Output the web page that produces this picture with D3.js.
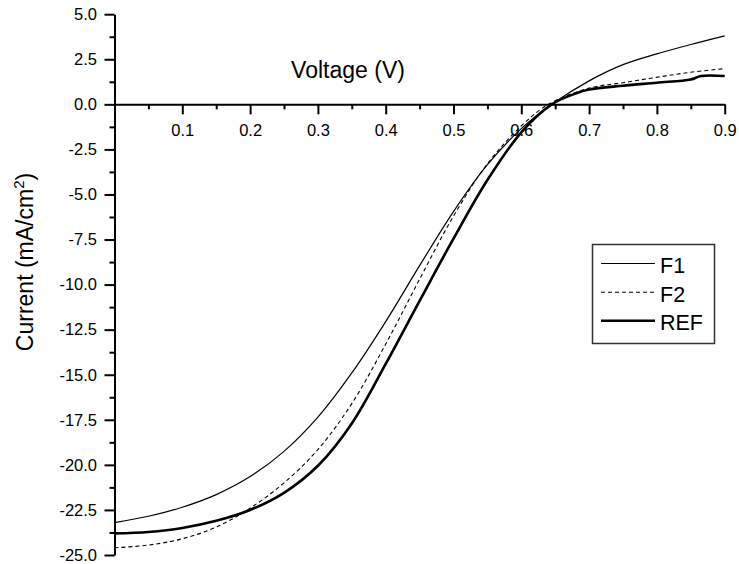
<!DOCTYPE html>
<html>
<head>
<meta charset="utf-8">
<script src="https://cdn.jsdelivr.net/npm/d3@7"></script>
<style>
  html, body { margin: 0; padding: 0; background: #fff; }
  svg { display: block; font-family: Arial, "Liberation Sans", sans-serif; }
</style>
</head>
<body>
<svg id="chart" width="739" height="564"></svg>
<script>
// ---- data ----
const seriesNames = ["F1", "F2", "REF"];
const voltageF1 = [0, 0.05, 0.1, 0.15, 0.2, 0.25, 0.3, 0.35, 0.4, 0.45, 0.5, 0.55, 0.6, 0.645, 0.7, 0.75, 0.8, 0.85, 0.9];
const currentF1 = [-23.2, -22.85, -22.35, -21.65, -20.65, -19.25, -17.35, -14.9, -12.05, -8.95, -5.95, -3.35, -1.35, 0.0, 1.3, 2.2, 2.8, 3.32, 3.8];
const voltageF2 = [0, 0.05, 0.1, 0.15, 0.2, 0.25, 0.3, 0.35, 0.4, 0.45, 0.5, 0.55, 0.6, 0.64, 0.7, 0.75, 0.8, 0.85, 0.9];
const currentF2 = [-24.6, -24.45, -24.1, -23.45, -22.4, -21.0, -19.15, -16.6, -13.3, -9.7, -6.2, -3.3, -1.2, 0.0, 0.9, 1.2, 1.5, 1.78, 1.98];
const voltageREF = [0, 0.05, 0.1, 0.15, 0.2, 0.25, 0.3, 0.35, 0.4, 0.45, 0.5, 0.55, 0.6, 0.645, 0.68, 0.7, 0.75, 0.8, 0.85, 0.865, 0.9];
const currentREF = [-23.8, -23.72, -23.5, -23.1, -22.5, -21.55, -20.05, -17.7, -14.4, -10.9, -7.45, -4.2, -1.55, 0.0, 0.6, 0.82, 1.03, 1.2, 1.38, 1.57, 1.57];
const xMajorTicks = [0.1, 0.2, 0.3, 0.4, 0.5, 0.6, 0.7, 0.8, 0.9];
const xMinorTicks = [0.05, 0.15, 0.25, 0.35, 0.45, 0.55, 0.65, 0.75, 0.85];
const yMajorTicks = [5, 2.5, 0, -2.5, -5, -7.5, -10, -12.5, -15, -17.5, -20, -22.5, -25];
const yMinorTicks = [3.75, 1.25, -1.25, -3.75, -6.25, -8.75, -11.25, -13.75, -16.25, -18.75, -21.25, -23.75];
const xTitle = "Voltage (V)";

// ---- chart ----
const svg = d3.select("#chart");
const x = d3.scaleLinear().domain([0, 0.9]).range([114.5, 724.7]);
const y = d3.scaleLinear().domain([-25, 5]).range([555, 14.2]);
const fmt = d => d.toFixed(1);   // plain hyphen-minus like the reference

const series = [
  { name: seriesNames[0], v: voltageF1, c: currentF1, width: 1.2, dash: null },
  { name: seriesNames[1], v: voltageF2, c: currentF2, width: 1.1, dash: "4,3" },
  { name: seriesNames[2], v: voltageREF, c: currentREF, width: 2.6, dash: null }
];

const line = d3.line().x(d => x(d[0])).y(d => y(d[1])).curve(d3.curveCatmullRom.alpha(0.5));

svg.append("g").selectAll("path").data(series).join("path")
  .attr("d", s => line(s.v.map((v, i) => [v, s.c[i]])))
  .attr("fill", "none")
  .attr("stroke", "#000")
  .attr("stroke-width", s => s.width)
  .attr("stroke-dasharray", s => s.dash)
  .attr("stroke-linejoin", "round");

// Y axis
const yAxisMinor = svg.append("g").attr("transform", `translate(${x(0)},0)`)
  .call(d3.axisLeft(y).tickValues(yMinorTicks).tickSize(5).tickFormat(""));
const yAxis = svg.append("g").attr("transform", `translate(${x(0)},0)`)
  .call(d3.axisLeft(y).tickValues(yMajorTicks).tickSize(10).tickSizeOuter(0).tickPadding(7.5).tickFormat(fmt));

// X axis at y=0
const xAxisMinor = svg.append("g").attr("transform", `translate(0,${y(0)})`)
  .call(d3.axisBottom(x).tickValues(xMinorTicks).tickSize(5).tickFormat(""));
const xAxis = svg.append("g").attr("transform", `translate(0,${y(0)})`)
  .call(d3.axisBottom(x).tickValues(xMajorTicks).tickSize(10).tickSizeOuter(0).tickPadding(10).tickFormat(fmt));

[yAxisMinor, yAxis, xAxisMinor, xAxis].forEach(g => {
  g.selectAll("path.domain").attr("stroke", "#000").attr("stroke-width", 2);
  g.selectAll(".tick line").attr("stroke", "#000").attr("stroke-width", 2);
  g.selectAll(".tick text").attr("fill", "#000").attr("font-size", 16.5).attr("font-family", "Arial, 'Liberation Sans', sans-serif");
});
xAxisMinor.select("path.domain").remove();
yAxisMinor.select("path.domain").remove();

// Axis titles
svg.append("text")
  .attr("x", 348).attr("y", 78.3)
  .attr("text-anchor", "middle")
  .attr("font-size", 23)
  .text(xTitle);

const yt = svg.append("text")
  .attr("transform", `translate(33,262) rotate(-90)`)
  .attr("text-anchor", "middle")
  .attr("font-size", 23);
yt.append("tspan").text("Current (mA/cm");
yt.append("tspan").attr("dy", -9).attr("font-size", 15).text("2");
yt.append("tspan").attr("dy", 9).text(")");

// Legend
const legend = svg.append("g");
legend.append("rect")
  .attr("x", 592.5).attr("y", 244.5).attr("width", 122).attr("height", 99)
  .attr("fill", "#fff").attr("stroke", "#333").attr("stroke-width", 1.5);
const legendRows = [263.5, 292.3, 320.7];
series.forEach((s, i) => {
  legend.append("line")
    .attr("x1", 601).attr("x2", 655)
    .attr("y1", legendRows[i]).attr("y2", legendRows[i])
    .attr("stroke", "#000").attr("stroke-width", s.width)
    .attr("stroke-dasharray", s.dash);
  legend.append("text")
    .attr("x", 660).attr("y", legendRows[i] + 9.5)
    .attr("font-size", 21.5)
    .text(s.name);
});
</script>
</body>
</html>
